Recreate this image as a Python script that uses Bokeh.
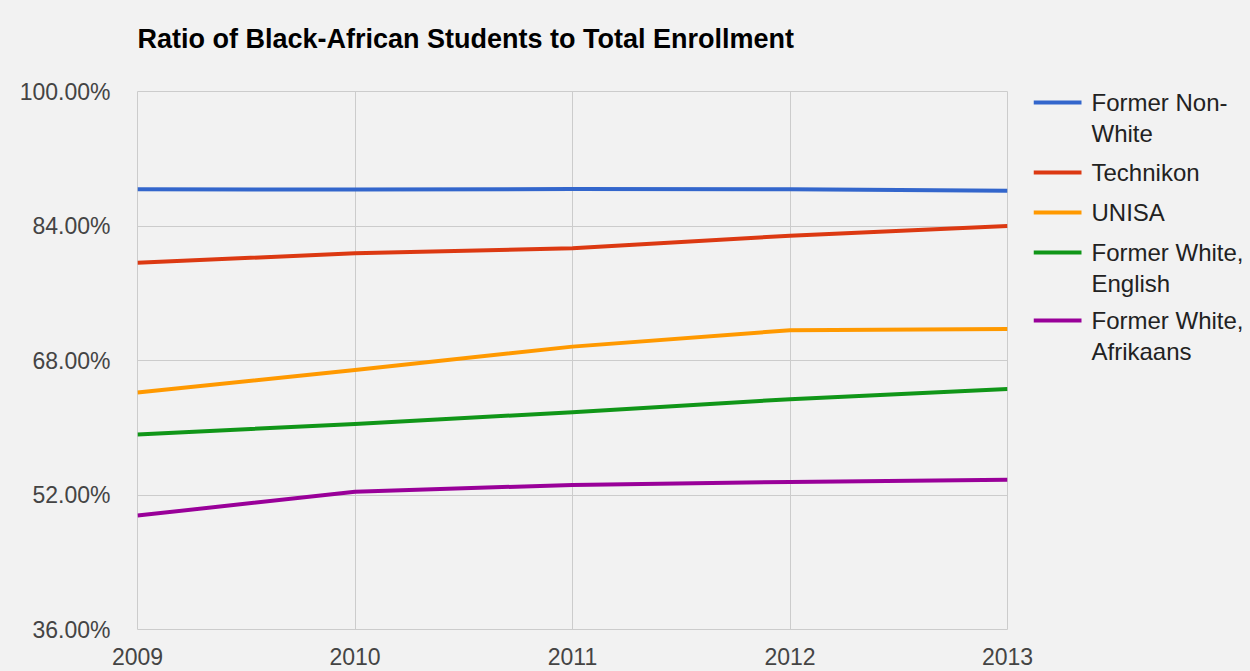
from bokeh.plotting import figure
from bokeh.layouts import row
from bokeh.models import FixedTicker, NumeralTickFormatter, Range1d
from bokeh.core.properties import value
from bokeh.embed import file_html
from bokeh.resources import INLINE

# ---- data ----
years = [2009, 2010, 2011, 2012, 2013]
former_non_white = [0.8836, 0.8835, 0.8840, 0.8836, 0.8820]
technikon = [0.7964, 0.8075, 0.8135, 0.8285, 0.8400]
unisa = [0.6418, 0.6688, 0.6965, 0.7160, 0.7175]
former_white_english = [0.5920, 0.6045, 0.6185, 0.6340, 0.6460]
former_white_afrikaans = [0.4955, 0.5240, 0.5320, 0.5356, 0.5380]
series_names = ["Former Non-White", "Technikon", "UNISA",
                "Former White, English", "Former White, Afrikaans"]
legend_lines = [["Former Non-", "White"], ["Technikon"], ["UNISA"],
                ["Former White,", "English"], ["Former White,", "Afrikaans"]]
y_ticks = [0.36, 0.52, 0.68, 0.84, 1.00]
x_ticks = years
title_text = "Ratio of Black-African Students to Total Enrollment"

series = [former_non_white, technikon, unisa, former_white_english, former_white_afrikaans]
colors = ["#3366cc", "#dc3912", "#ff9900", "#109618", "#990099"]

FONT = "Liberation Sans"
BG = "#f2f2f2"
GRID = "#cccccc"
FRAME_TOP, FRAME_BOTTOM = 91, 629

p = figure(frame_width=870, frame_height=FRAME_BOTTOM - FRAME_TOP,
           min_border_left=137, min_border_right=26, min_border_top=FRAME_TOP, min_border_bottom=42,
           x_range=Range1d(years[0], years[-1]), y_range=Range1d(y_ticks[0], y_ticks[-1]),
           output_backend="svg", toolbar_location=None,
           background_fill_color=BG, border_fill_color=BG,
           outline_line_color=GRID, outline_line_width=1)

# the title box is centred in its panel; a blank second line lifts the text up
p.title.text = title_text + "\n "
p.title.text_font = FONT
p.title.text_font_size = "27px"
p.title.text_font_style = "bold"
p.title.text_color = "#000000"
p.title.align = "left"
p.title.standoff = 16

for ys, c, name in zip(series, colors, series_names):
    p.line(years, ys, line_color=c, line_width=4, line_join="round")

for ax in (p.xaxis[0], p.yaxis[0]):
    ax.axis_line_color = None
    ax.major_tick_line_color = None
    ax.minor_tick_line_color = None
    ax.major_tick_in = 0
    ax.major_tick_out = 0
    ax.major_label_text_font = FONT
    ax.major_label_text_font_size = "23px"
    ax.major_label_text_color = "#444444"

p.xaxis.ticker = FixedTicker(ticks=x_ticks)
p.yaxis.ticker = FixedTicker(ticks=y_ticks)
p.yaxis.formatter = NumeralTickFormatter(format="0.00%")
p.yaxis.major_label_standoff = 27
p.xaxis.major_label_standoff = 18

p.xgrid.ticker = FixedTicker(ticks=x_ticks)
p.ygrid.ticker = FixedTicker(ticks=y_ticks)
p.grid.grid_line_color = GRID
p.grid.grid_line_width = 1

# ---- legend panel (its frame is aligned with the main frame; y in page pixels, downward) ----
LEG_W = 1250 - (137 + 870 + 26)
leg = figure(width=LEG_W, height=671,
             x_range=Range1d(0, LEG_W), y_range=Range1d(FRAME_BOTTOM, FRAME_TOP),
             min_border=0, output_backend="svg", toolbar_location=None,
             x_axis_location=None, y_axis_location=None,
             background_fill_color=BG, border_fill_color=BG, outline_line_color=None)
leg.grid.visible = False

sample_x0, sample_x1, text_x = 0, 48, 58
first_line_y = [102, 172, 212, 252, 320]
line_gap = 31
for lines, c, y0 in zip(legend_lines, colors, first_line_y):
    leg.segment(x0=[sample_x0], y0=[y0], x1=[sample_x1], y1=[y0], line_color=c, line_width=4)
    leg.text(x=[text_x] * len(lines), y=[y0 + i * line_gap for i in range(len(lines))],
             text=lines, text_font=value(FONT), text_font_size="24px",
             text_color="#222222", text_baseline="middle", text_align="left")

layout = row(p, leg, spacing=0, styles={"background-color": BG})
open("out.html", "w").write(file_html(layout, INLINE))
